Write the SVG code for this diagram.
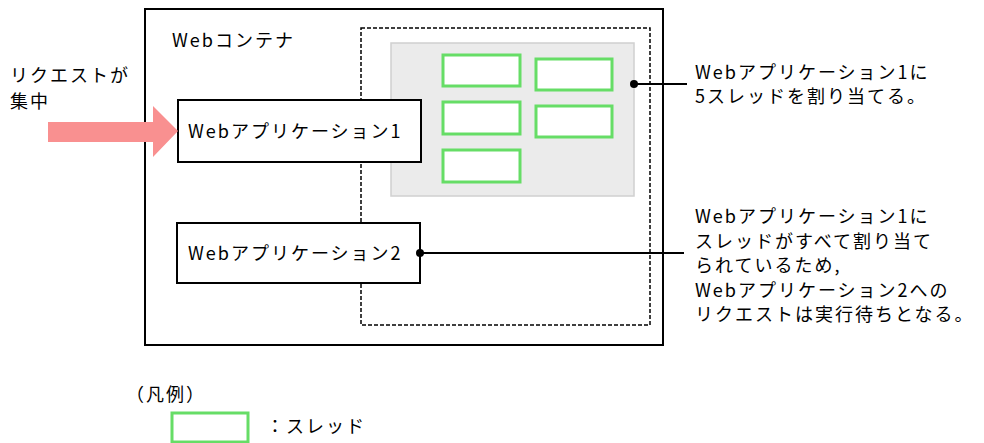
<svg xmlns="http://www.w3.org/2000/svg" width="984" height="443" viewBox="0 0 984 443">
<style>
text{font-family:"Noto Sans CJK JP","Noto Sans",sans-serif;font-size:18px;fill:#000;letter-spacing:2px}
.box{fill:#fff;stroke:#000;stroke-width:2}
.thread{fill:#fff;stroke:#66dd66;stroke-width:3}
.ln{stroke:#000;stroke-width:2;fill:none}
</style>
<rect width="984" height="443" fill="#fff"/>
<g id="container">
<rect x="145" y="9" width="518" height="336" class="box"/>
<text x="172" y="47">Webコンテナ</text>
</g>
<g id="pool">
<rect x="361" y="28" width="289" height="297" fill="none" stroke="#000" stroke-width="1.5" stroke-dasharray="4,2"/>
</g>
<g id="threadgroup">
<rect x="391" y="43" width="243" height="153" fill="#ebebeb" stroke="#d0d0d0" stroke-width="1.5"/>
<rect x="443" y="55" width="77" height="31" class="thread"/>
<rect x="443" y="102" width="77" height="32" class="thread"/>
<rect x="443" y="150" width="77" height="32" class="thread"/>
<rect x="536" y="59" width="76" height="31" class="thread"/>
<rect x="536" y="106" width="76" height="31" class="thread"/>
</g>
<g id="app1">
<rect x="178" y="100" width="243" height="62" class="box"/>
<text x="188" y="138">Webアプリケーション1</text>
</g>
<g id="app2">
<rect x="177" y="223" width="243" height="60" class="box"/>
<text x="188" y="260">Webアプリケーション2</text>
</g>
<g id="request">
<polygon points="48,122 153,122 153,106 178,131 153,157 153,142 48,142" fill="#f99090"/>
<text x="10" y="82">リクエストが</text>
<text x="10" y="108">集中</text>
</g>
<g id="connectors">
<line x1="634" y1="84" x2="687" y2="84" class="ln"/>
<circle cx="634" cy="84" r="4"/>
<line x1="420" y1="253" x2="684" y2="253" class="ln"/>
<circle cx="420" cy="253" r="4"/>
</g>
<g id="note1">
<text x="695" y="79">Webアプリケーション1に</text>
<text x="695" y="103">5スレッドを割り当てる。</text>
</g>
<g id="note2">
<text x="695" y="223">Webアプリケーション1に</text>
<text x="695" y="248">スレッドがすべて割り当て</text>
<text x="695" y="272">られているため,</text>
<text x="695" y="297">Webアプリケーション2への</text>
<text x="695" y="321">リクエストは実行待ちとなる。</text>
</g>
<g id="legend">
<text x="126" y="401">（凡例）</text>
<rect x="172" y="413" width="76" height="29" class="thread"/>
<text x="266" y="433">：スレッド</text>
</g>
</svg>
